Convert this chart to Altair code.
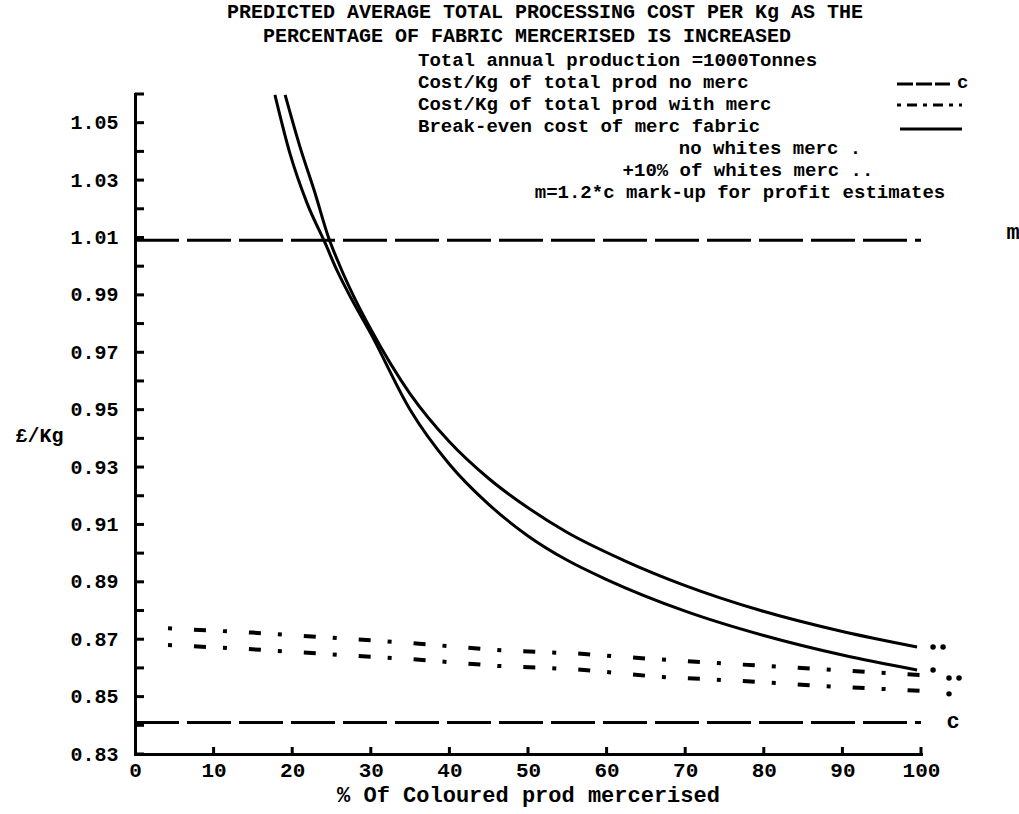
import altair as alt
import pandas as pd

# ---------------- data ----------------
pct_ticks = [0, 10, 20, 30, 40, 50, 60, 70, 80, 90, 100]
cost_labels = [0.83, 0.85, 0.87, 0.89, 0.91, 0.93, 0.95, 0.97, 0.99, 1.01, 1.03, 1.05]
cost_ticks = [0.83, 0.84, 0.85, 0.86, 0.87, 0.88, 0.89, 0.90, 0.91, 0.92, 0.93, 0.94,
              0.95, 0.96, 0.97, 0.98, 0.99, 1.00, 1.01, 1.02, 1.03, 1.04, 1.05, 1.06]

cost_c = 0.841          # cost/kg of total prod, no merc  (c)
cost_m = 1.009          # m = 1.2*c mark-up

# break-even cost of merc fabric, no whites merc
be_none_pct = [17.8, 19.7, 21.9, 24.2, 25.7, 27.4, 30, 35, 40, 45, 50, 55, 60, 70, 80, 90, 99.5]
be_none_cost = [1.0597, 1.0394, 1.0219, 1.0080, 0.9985, 0.9893, 0.9765, 0.9500, 0.9310, 0.9170,
                0.9060, 0.8975, 0.8908, 0.8798, 0.8713, 0.8645, 0.8593]
# break-even cost of merc fabric, +10% of whites merc
be_10_pct = [19.1, 21.0, 22.9, 24.6, 26, 28, 30, 35, 40, 45, 50, 55, 62.1, 70, 79.5, 90, 99.5]
be_10_cost = [1.0597, 1.0415, 1.0255, 1.0102, 1.0005, 0.9885, 0.9780, 0.9555, 0.9388, 0.9260,
              0.9158, 0.9072, 0.8976, 0.8887, 0.8801, 0.8727, 0.8673]

# cost/kg of total prod with merc
wm_pct = [4.2, 14.9, 25.1, 35.4, 46.1, 56.3, 66.5, 77.0, 87.5, 100]
wm_10_cost = [0.8738, 0.8723, 0.8705, 0.8686, 0.8662, 0.8650, 0.8630, 0.8612, 0.8595, 0.8575]
wm_none_cost = [0.8680, 0.8665, 0.8647, 0.8630, 0.8607, 0.8595, 0.8569, 0.8555, 0.8537, 0.8520]

title_lines = ["PREDICTED AVERAGE TOTAL PROCESSING COST PER Kg AS THE",
               "PERCENTAGE OF FABRIC MERCERISED IS INCREASED"]
legend_lines = ["Total annual production   =1000Tonnes",
                "Cost/Kg of total prod  no merc",
                "Cost/Kg of total prod  with merc",
                "Break-even cost of merc fabric",
                "no whites merc .",
                "+10% of whites merc ..",
                "m=1.2*c mark-up for profit estimates"]
x_title = "% Of Coloured prod mercerised"
y_title = "£/Kg"

# ---------------- layout / style ----------------
W, H = 786, 660
PL, PT = 135, 94
MONO = "Liberation Mono"
INK = "black"
TXT = 19

x_scale = alt.Scale(domain=[0, 100], nice=False, zero=False)
y_scale = alt.Scale(domain=[0.83, 1.06], nice=False, zero=False)

x_axis = alt.Axis(values=pct_ticks, title=x_title, ticks=False, grid=False,
                  domainWidth=3, domainColor=INK, domainCap="square",
                  labelFont=MONO, labelFontSize=21, labelFontWeight="bold", labelColor=INK,
                  labelPadding=5, labelFlush=False, labelOverlap=False, labelBound=False,
                  titleFont=MONO, titleFontSize=22, titleFontWeight="bold", titleColor=INK,
                  titlePadding=4)
y_axis = alt.Axis(values=cost_labels, format=".2f", title=y_title, ticks=False, grid=False,
                  domainWidth=3, domainColor=INK, domainCap="square",
                  labelFont=MONO, labelFontSize=20, labelFontWeight="bold", labelColor=INK,
                  labelPadding=17, labelFlush=False, labelOverlap=False, labelBound=False,
                  titleFont=MONO, titleFontSize=20, titleFontWeight="bold", titleColor=INK,
                  titleAngle=0, titleX=-120, titleY=341, titleAlign="left", titleBaseline="middle")


def X(field):
    return alt.X(field, type="quantitative", scale=x_scale, axis=x_axis)


def Y(field):
    return alt.Y(field, type="quantitative", scale=y_scale, axis=y_axis)


layers = []

# horizontal reference lines m and c
ref = pd.DataFrame({"x0": [0, 0], "x1": [100, 100], "v": [cost_m, cost_c], "lab": ["m", "c"]})
layers.append(alt.Chart(ref).mark_rule(strokeWidth=3, color=INK, strokeDash=[44, 8])
              .encode(x=X("x0"), x2="x1", y=Y("v")))
layers.append(alt.Chart(ref[ref.lab == "m"]).mark_text(font=MONO, fontSize=22, fontWeight="bold",
                                                      color=INK, dx=92, dy=-8, baseline="middle")
              .encode(x=X("x1"), y=Y("v"), text="lab:N"))
layers.append(alt.Chart(ref[ref.lab == "c"]).mark_text(font=MONO, fontSize=22, fontWeight="bold",
                                                      color=INK, dx=32, dy=-1, baseline="middle")
              .encode(x=X("x1"), y=Y("v"), text="lab:N"))

# with-merc dash-dot lines
wm = pd.concat([
    pd.DataFrame({"pct": wm_pct, "cost": wm_10_cost, "s": "10"}),
    pd.DataFrame({"pct": wm_pct, "cost": wm_none_cost, "s": "none"}),
])
layers.append(alt.Chart(wm).mark_line(strokeWidth=4, color=INK, strokeDash=[4, 22, 12, 17])
              .encode(x=X("pct"), y=Y("cost"), detail="s:N"))

# break-even solid curves
be = pd.concat([
    pd.DataFrame({"pct": be_none_pct, "cost": be_none_cost, "s": "none"}),
    pd.DataFrame({"pct": be_10_pct, "cost": be_10_cost, "s": "10"}),
])
layers.append(alt.Chart(be).mark_line(strokeWidth=3, color=INK, interpolate="monotone")
              .encode(x=X("pct"), y=Y("cost"), detail="s:N"))

# end-of-line markers: one dot = no whites merc, two dots = +10% whites merc
be_end = pd.DataFrame({"pct": [be_none_pct[-1], be_10_pct[-1]],
                       "cost": [be_none_cost[-1], be_10_cost[-1]]})
wm_end = pd.DataFrame({"pct": [wm_pct[-1], wm_pct[-1]],
                       "cost": [wm_none_cost[-1], wm_10_cost[-1]]})
dot = dict(size=30, color=INK, opacity=1)
layers.append(alt.Chart(be_end).mark_circle(**dot)
              .encode(x=X("pct"), y=Y("cost"), xOffset=alt.value(16)))
layers.append(alt.Chart(be_end.iloc[[1]]).mark_circle(**dot)
              .encode(x=X("pct"), y=Y("cost"), xOffset=alt.value(26)))
layers.append(alt.Chart(wm_end).mark_circle(**dot)
              .encode(x=X("pct"), y=Y("cost"), xOffset=alt.value(28), yOffset=alt.value(3)))
layers.append(alt.Chart(wm_end.iloc[[1]]).mark_circle(**dot)
              .encode(x=X("pct"), y=Y("cost"), xOffset=alt.value(38), yOffset=alt.value(3)))

# inward tick marks
layers.append(alt.Chart(pd.DataFrame({"v": cost_ticks})).mark_rule(strokeWidth=3, color=INK)
              .encode(y=Y("v"), x=alt.value(0), x2=alt.value(9)))
layers.append(alt.Chart(pd.DataFrame({"v": pct_ticks[1:]})).mark_rule(strokeWidth=3, color=INK)
              .encode(x=X("v"), y=alt.value(H), y2=alt.value(H - 7)))


def text_at(txt, px, py, size=TXT, align="left"):
    return (alt.Chart(pd.DataFrame({"t": [txt]}))
            .mark_text(font=MONO, fontSize=size, fontWeight="bold", color=INK,
                       align=align, baseline="middle")
            .encode(x=alt.value(px - PL), y=alt.value(py - PT), text="t:N"))


def sample(px0, px1, py, dash=None):
    kw = dict(strokeWidth=3, color=INK)
    if dash:
        kw["strokeDash"] = dash
    return (alt.Chart(pd.DataFrame({"k": [0]})).mark_rule(**kw)
            .encode(x=alt.value(px0 - PL), x2=alt.value(px1 - PL), y=alt.value(py - PT)))


# title (two lines)
layers.append(text_at(title_lines[0], 545, 12, size=20, align="center"))
layers.append(text_at(title_lines[1], 527, 36, size=20, align="center"))

# legend block
leg_x = [418, 418, 418, 418, 770, 748, 740]
leg_al = ["left", "left", "left", "left", "center", "center", "center"]
leg_y = [60, 82, 104, 126, 148, 170, 192]
for t, lx, ly, al in zip(legend_lines, leg_x, leg_y, leg_al):
    layers.append(text_at(t, lx, ly, align=al))
layers.append(sample(897, 950, leg_y[1] + 2, [16, 3]))
layers.append(text_at("c", 957, leg_y[1]))
layers.append(sample(897, 962, leg_y[2] + 1, [4, 6, 10, 6]))
layers.append(sample(900, 962, leg_y[3] + 3))

chart = (alt.layer(*layers)
         .properties(width=W, height=H, autosize=alt.AutoSizeParams(type="none"),
                     padding={"left": PL, "top": PT, "right": 1019 - PL - W, "bottom": 814 - PT - H},
                     background="white")
         .configure_view(stroke=None))

chart.save("out.html", embed_options={"renderer": "svg", "actions": False})
